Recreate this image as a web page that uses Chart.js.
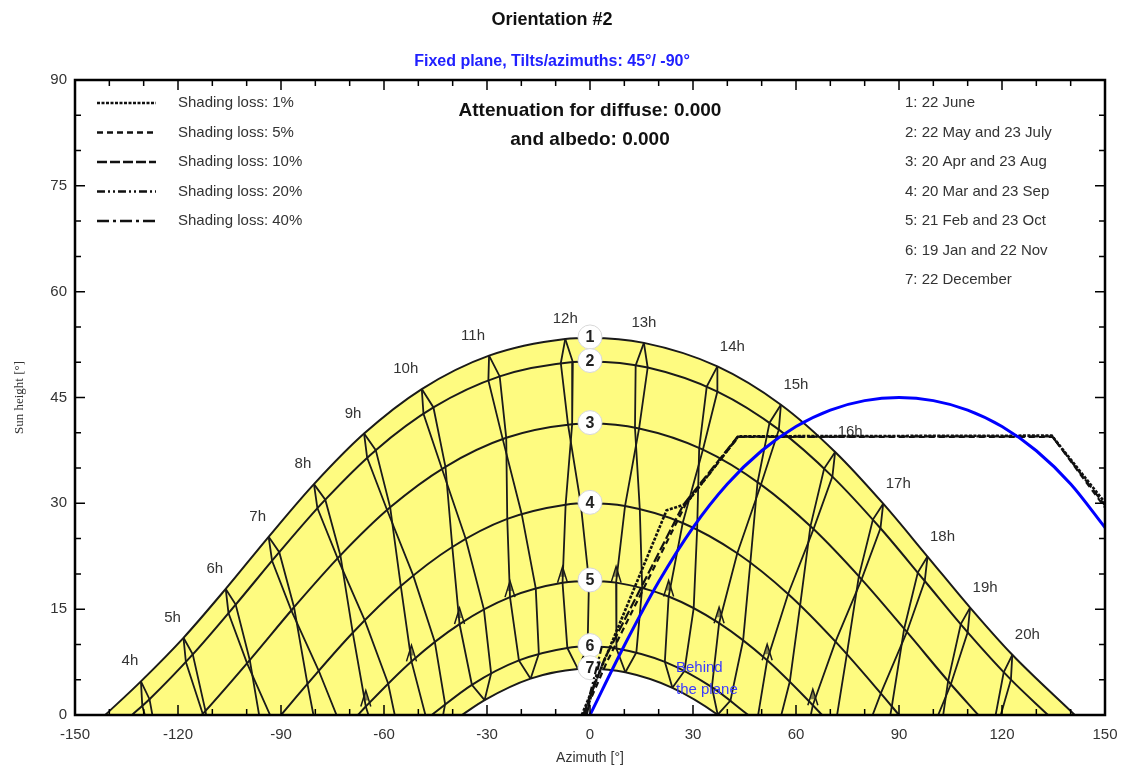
<!DOCTYPE html>
<html>
<head>
<meta charset="utf-8">
<script src="https://cdn.jsdelivr.net/npm/chart.js@4/dist/chart.umd.min.js"></script>
<style>
  html, body { margin: 0; padding: 0; background: #fff; }
  canvas { display: block; }
</style>
</head>
<body>
<canvas id="sunpath" width="1125" height="771"></canvas>
<script>
// Clock hours drawn as hour lines
const clockHours = [4, 5, 6, 7, 8, 9, 10, 11, 12, 13, 14, 15, 16, 17, 18, 19, 20];

// Sun position [azimuth, height] in degrees at each clock hour (null: far below horizon)
const june22 = [[-130.8,4.77],[-118.4,10.94],[-106.1,17.87],[-93.6,25.25],[-80.4,32.72],[-65.8,39.89],[-49.0,46.2],[-29.4,50.94],[-7.2,53.3],[15.7,52.74],[37.1,49.41],[55.6,43.98],[71.4,37.28],[85.4,29.95],[98.3,22.46],[110.7,15.22],[123.0,8.53]];
const may22  = [[-128.3,2.24],[-115.7,8.59],[-103.2,15.65],[-90.5,23.08],[-77.1,30.52],[-62.4,37.54],[-45.6,43.59],[-26.3,47.99],[-5.0,50.02],[16.8,49.24],[37.1,45.84],[55.0,40.44],[70.6,33.79],[84.6,26.47],[97.5,18.99],[110.0,11.72],[122.6,5.01]];
const jul23  = [[-130.4,1.30],[-117.7,7.50],[-105.3,14.46],[-92.6,21.86],[-79.4,29.32],[-64.9,36.44],[-48.5,42.70],[-29.6,47.42],[-8.5,49.88],[13.3,49.56],[34.0,46.55],[52.3,41.43],[68.2,34.93],[82.4,27.69],[95.5,20.21],[108.0,12.88],[120.5,6.06]];
const apr20  = [[-125.2,-6.0],[-112.0,0.58],[-99.1,7.79],[-86.2,15.27],[-72.7,22.62],[-58.2,29.43],[-42.1,35.18],[-24.4,39.29],[-5.2,41.21],[14.3,40.62],[32.9,37.62],[49.8,32.66],[65.1,26.35],[79.1,19.23],[92.3,11.77],[105.1,4.36],[118.1,-2.59]];
const aug23  = [[-126.0,-6.4],[-112.8,0.17],[-99.9,7.36],[-87.0,14.83],[-73.5,22.20],[-59.1,29.05],[-43.1,34.86],[-25.4,39.06],[-6.4,41.16],[13.1,40.72],[31.8,37.80],[48.8,32.96],[64.2,26.73],[78.3,19.65],[91.5,12.22],[104.3,4.80],[117.3,-2.18]];
const mar20  = [null,[-108.5,-10.39],[-95.3,-3.07],[-82.3,4.41],[-69.1,11.66],[-55.1,18.27],[-40.1,23.81],[-24.1,27.79],[-7.1,29.81],[10.2,29.61],[27.0,27.21],[42.9,22.92],[57.7,17.15],[71.5,10.39],[84.7,3.07],[97.7,-4.41],null];
const sep23  = [null,[-105.2,-8.59],[-92.1,-1.19],[-79.0,6.27],[-65.6,13.41],[-51.5,19.79],[-36.2,24.98],[-19.9,28.50],[-2.7,29.97],[14.5,29.20],[31.2,26.30],[46.7,21.59],[61.2,15.53],[74.8,8.59],[87.9,1.19],[101.0,-6.27],null];
const feb21  = [null,null,null,[-78.2,-5.90],[-65.3,1.21],[-52.0,7.60],[-38.0,12.89],[-23.3,16.71],[-8.0,18.74],[7.6,18.76],[22.9,16.79],[37.6,13.01],[51.6,7.75],[64.9,1.39],[77.9,-5.70],null,null];
const oct23  = [null,null,null,[-71.9,-2.34],[-58.8,4.46],[-45.2,10.36],[-30.9,14.98],[-15.8,17.94],[-0.3,19.00],[15.2,18.03],[30.2,15.15],[44.6,10.59],[58.2,4.74],[71.3,-2.03],[84.2,-9.35],null,null];
const jan19  = [null,null,null,null,[-60.3,-6.68],[-47.6,-0.63],[-34.4,4.28],[-20.7,7.74],[-6.6,9.51],[7.7,9.43],[21.8,7.53],[35.5,3.94],[48.6,-1.08],[61.3,-7.21],null,null,null];
const nov22  = [null,null,null,null,[-55.1,-4.08],[-42.2,1.55],[-28.8,5.89],[-14.9,8.69],[-0.7,9.71],[13.5,8.87],[27.5,6.25],[40.9,2.03],[53.9,-3.47],null,null,null,null];
const dec22  = [null,null,null,null,null,[-43.7,-2.42],[-30.7,2.11],[-17.3,5.15],[-3.5,6.51],[10.3,6.06],[24.0,3.85],[37.2,0.04],null,null,null,null,null];

// Date curves 1..7: horizon crossing azimuth and noon height
const riseAzimuth = [141.2, 133.4, 113.1, 90.0, 67.6, 46.1, 37.3];
const noonHeight  = [53.44, 50.1, 41.3, 30.0, 19.0, 9.7, 6.56];
const dateLegend = ['1: 22 June', '2: 22 May and 23 July', '3: 20 Apr and 23 Aug', '4: 20 Mar and 23 Sep', '5: 21 Feb and 23 Oct', '6: 19 Jan and 22 Nov', '7: 22 December'];

// Iso-shading loss contours [azimuth, height]
const lossLabels = ['Shading loss: 1%', 'Shading loss: 5%', 'Shading loss: 10%', 'Shading loss: 20%', 'Shading loss: 40%'];
const loss1  = [[-2.4,0],[22.3,29.0],[27.9,29.9],[43.2,39.5],[134.5,39.6],[150,30.1]];
const loss5  = [[-1.8,0],[4.8,7.4],[27.9,29.9],[43.2,39.4],[134.8,39.4],[150,29.4]];
const loss10 = [[-2.0,0],[4.2,7.9],[27.2,29.8],[43.0,39.45],[134.6,39.5],[150,29.7]];
const loss20 = [[-1.5,0],[3.5,9.8]];
const loss40 = [[-1.0,0],[2.8,7.6]];

// Plane horizon (tilt 45°, azimuth -90°): sun behind the plane below this line
const planeAzimuth = [0, 10, 20, 30, 40, 50, 60, 70, 80, 90, 100, 110, 120, 130, 140, 150];
const planeHeight  = [0, 9.85, 18.88, 26.57, 32.74, 37.45, 40.89, 43.22, 44.56, 45.0, 44.56, 43.22, 40.89, 37.45, 32.74, 26.57];

// Axis tick labels
const azimuthTicks = [-150, -120, -90, -60, -30, 0, 30, 60, 90, 120, 150];
const heightTicks = [0, 15, 30, 45, 60, 75, 90];

const INK = '#1a1a1a';
const YELLOW = '#fefb80';
const TEXT = '#333333';

const toXY = p => ({ x: p[0], y: p[1] });

const curveSeries = [june22, may22, apr20, mar20, feb21, jan19, dec22];
function dateCurve(k) {
  const pts = [{ x: -riseAzimuth[k], y: 0 }, { x: 0, y: noonHeight[k] }, { x: riseAzimuth[k], y: 0 }];
  curveSeries[k].forEach(p => { if (p && p[1] > 0 && Math.abs(p[0]) > 1.5) pts.push(toXY(p)); });
  pts.sort((a, b) => a.x - b.x);
  return pts;
}

const firstHalf  = [june22, may22, apr20, mar20, feb21, jan19, dec22];
const secondHalf = [june22, jul23, aug23, sep23, oct23, nov22, dec22];
function hourLine(chain, i) {
  const pts = [];
  for (const series of chain) {
    const p = series[i];
    if (!p) break;
    pts.push(toXY(p));
    if (p[1] < 0) break;
  }
  return pts;
}

const datasets = [];
// yellow band between the June and December curves
datasets.push({ data: dateCurve(0), showLine: true, fill: 'origin', backgroundColor: YELLOW, borderColor: INK, borderWidth: 2, cubicInterpolationMode: 'monotone', order: 100 });
datasets.push({ data: dateCurve(6), showLine: true, fill: 'origin', backgroundColor: '#ffffff', borderColor: INK, borderWidth: 2, cubicInterpolationMode: 'monotone', order: 99 });
for (let k = 1; k <= 5; k++) {
  datasets.push({ data: dateCurve(k), showLine: true, fill: false, borderColor: INK, borderWidth: 2, cubicInterpolationMode: 'monotone', order: 50 });
}
clockHours.forEach((hr, i) => {
  datasets.push({ data: hourLine(firstHalf, i), showLine: true, fill: false, borderColor: INK, borderWidth: 1.8, tension: 0, order: 40 });
  datasets.push({ data: hourLine(secondHalf, i), showLine: true, fill: false, borderColor: INK, borderWidth: 1.8, tension: 0, order: 40 });
});
const lossDash = [[3, 1.5], [6, 4], [10, 3], [8, 3, 2, 3, 2, 3], [12, 4, 3, 4]];
[loss1, loss5, loss10, loss20, loss40].forEach((line, j) => {
  datasets.push({ data: line.map(toXY), showLine: true, fill: false, borderColor: '#111', borderWidth: j === 0 ? 2.6 : 2.2, borderDash: lossDash[j], tension: 0, order: 10, layer: 'shade' });
});
datasets.push({ data: planeAzimuth.map((a, i) => ({ x: a, y: planeHeight[i] })), showLine: true, fill: false, borderColor: '#0000ff', borderWidth: 3, cubicInterpolationMode: 'monotone', order: 5 });

// circled date numbers, hour labels and February arrowheads, drawn just under the shading contours
const markers = {
  id: 'markers',
  beforeDraw() { this.done = false; },
  beforeDatasetDraw(chart, args) {
    if (this.done || chart.data.datasets[args.index].layer !== 'shade') return;
    this.done = true;
    const { ctx, chartArea: a, scales: { x, y } } = chart;
    ctx.save();
    // arrowheads on the 21 Feb points of the hour lines
    ctx.beginPath();
    ctx.rect(a.left, a.top, a.right - a.left, a.bottom - a.top);
    ctx.clip();
    ctx.strokeStyle = INK;
    ctx.fillStyle = 'rgba(30,30,30,0.55)';
    ctx.lineWidth = 1.5;
    feb21.forEach(p => {
      if (!p || p[1] < 0) return;
      const px = x.getPixelForValue(p[0]);
      const py = y.getPixelForValue(p[1]);
      ctx.beginPath();
      ctx.moveTo(px - 5, py);
      ctx.lineTo(px, py - 16);
      ctx.lineTo(px + 5, py);
      ctx.stroke();
      ctx.beginPath();
      ctx.moveTo(px - 2.5, py - 6);
      ctx.lineTo(px, py - 15);
      ctx.lineTo(px + 2.5, py - 6);
      ctx.closePath();
      ctx.fill();
    });
    ctx.restore();

    ctx.save();
    ctx.textAlign = 'center';
    ctx.textBaseline = 'middle';
    ctx.font = '15px "Liberation Sans", Arial, sans-serif';
    ctx.fillStyle = TEXT;
    clockHours.forEach((hr, i) => {
      const p = june22[i];
      const px = x.getPixelForValue(p[0]);
      const py = y.getPixelForValue(p[1]);
      const dx = hr < 12 ? (hr >= 10 ? -16 : -11) : (hr <= 13 ? 0 : 15);
      ctx.fillText(hr + 'h', px + dx, py - 20);
    });
    noonHeight.forEach((h, k) => {
      const px = x.getPixelForValue(0);
      const py = y.getPixelForValue(h) - 1;
      ctx.beginPath();
      ctx.arc(px, py, 12, 0, Math.PI * 2);
      ctx.fillStyle = '#ffffff';
      ctx.fill();
      ctx.strokeStyle = '#d8d8d8';
      ctx.lineWidth = 1;
      ctx.stroke();
      ctx.fillStyle = '#222';
      ctx.font = 'bold 16px "Liberation Sans", Arial, sans-serif';
      ctx.fillText(String(k + 1), px, py + 1);
    });
    ctx.restore();
  }
};

// frame, inward ticks, titles, legends and notes
const decorations = {
  id: 'decorations',
  afterDraw(chart) {
    const { ctx, chartArea: a, scales: { x, y } } = chart;
    ctx.save();
    ctx.strokeStyle = '#000';
    ctx.lineWidth = 1.5;
    ctx.beginPath();
    for (let v = -150; v <= 150; v += 10) {
      const px = x.getPixelForValue(v);
      const len = v % 30 === 0 ? 10 : 6;
      ctx.moveTo(px, a.top); ctx.lineTo(px, a.top + len);
      ctx.moveTo(px, a.bottom); ctx.lineTo(px, a.bottom - len);
    }
    for (let v = 0; v <= 90; v += 5) {
      const py = y.getPixelForValue(v);
      const len = v % 15 === 0 ? 10 : 6;
      ctx.moveTo(a.left, py); ctx.lineTo(a.left + len, py);
      ctx.moveTo(a.right, py); ctx.lineTo(a.right - len, py);
    }
    ctx.stroke();
    ctx.lineWidth = 2.5;
    ctx.strokeRect(a.left, a.top, a.right - a.left, a.bottom - a.top);

    ctx.textBaseline = 'middle';
    ctx.textAlign = 'center';
    ctx.fillStyle = '#111';
    ctx.font = 'bold 18px "Liberation Sans", Arial, sans-serif';
    ctx.fillText('Orientation #2', 552, 20);
    ctx.fillStyle = '#2020ff';
    ctx.font = 'bold 16px "Liberation Sans", Arial, sans-serif';
    ctx.fillText('Fixed plane, Tilts/azimuths: 45°/ -90°', 552, 62);

    ctx.fillStyle = '#111';
    ctx.font = 'bold 19px "Liberation Sans", Arial, sans-serif';
    ctx.fillText('Attenuation for diffuse: 0.000', 590, 111);
    ctx.fillText('and albedo: 0.000', 590, 140);

    ctx.textAlign = 'left';
    ctx.font = '15px "Liberation Sans", Arial, sans-serif';
    ctx.fillStyle = TEXT;
    lossLabels.forEach((t, j) => {
      const ly = 103 + j * 29.5;
      ctx.fillText(t, 178, ly);
      ctx.save();
      ctx.strokeStyle = '#111';
      ctx.lineWidth = 2.5;
      ctx.setLineDash(lossDash[j]);
      ctx.beginPath();
      ctx.moveTo(97, ly); ctx.lineTo(156, ly);
      ctx.stroke();
      ctx.restore();
    });
    dateLegend.forEach((t, k) => ctx.fillText(t, 905, 103 + k * 29.5));

    ctx.fillStyle = '#3a3aff';
    ctx.fillText('Behind', 676, 668);
    ctx.fillText('the plane', 676, 690);
    ctx.restore();
  }
};

new Chart(document.getElementById('sunpath'), {
  type: 'scatter',
  data: { datasets },
  options: {
    responsive: false,
    animation: false,
    layout: { padding: { top: 80, right: 20, left: 0, bottom: 0 } },
    elements: { point: { radius: 0, hoverRadius: 0 } },
    plugins: { legend: { display: false }, tooltip: { enabled: false } },
    scales: {
      x: {
        type: 'linear', min: -150, max: 150,
        afterBuildTicks: s => { s.ticks = azimuthTicks.map(v => ({ value: v })); },
        afterFit: s => { s.height = 56; },
        grid: { display: false, drawTicks: true, tickLength: 8 },
        border: { display: false },
        ticks: { color: TEXT, padding: 3, font: { family: 'Liberation Sans', size: 15 }, callback: v => String(v) },
        title: { display: true, text: 'Azimuth [°]', color: TEXT, font: { family: 'Liberation Sans', size: 14 }, padding: { top: 0, bottom: 4 } }
      },
      y: {
        type: 'linear', min: 0, max: 90,
        afterBuildTicks: s => { s.ticks = heightTicks.map(v => ({ value: v })); },
        afterFit: s => { s.width = 75; },
        grid: { display: false, drawTicks: true, tickLength: 8 },
        border: { display: false },
        ticks: { color: TEXT, padding: 0, font: { family: 'Liberation Sans', size: 15 }, callback: v => String(v) },
        title: { display: true, text: 'Sun height [°]', color: TEXT, font: { family: 'Liberation Serif', size: 13 }, padding: { top: 12, bottom: 0 } }
      }
    }
  },
  plugins: [markers, decorations]
});
</script>
</body>
</html>
